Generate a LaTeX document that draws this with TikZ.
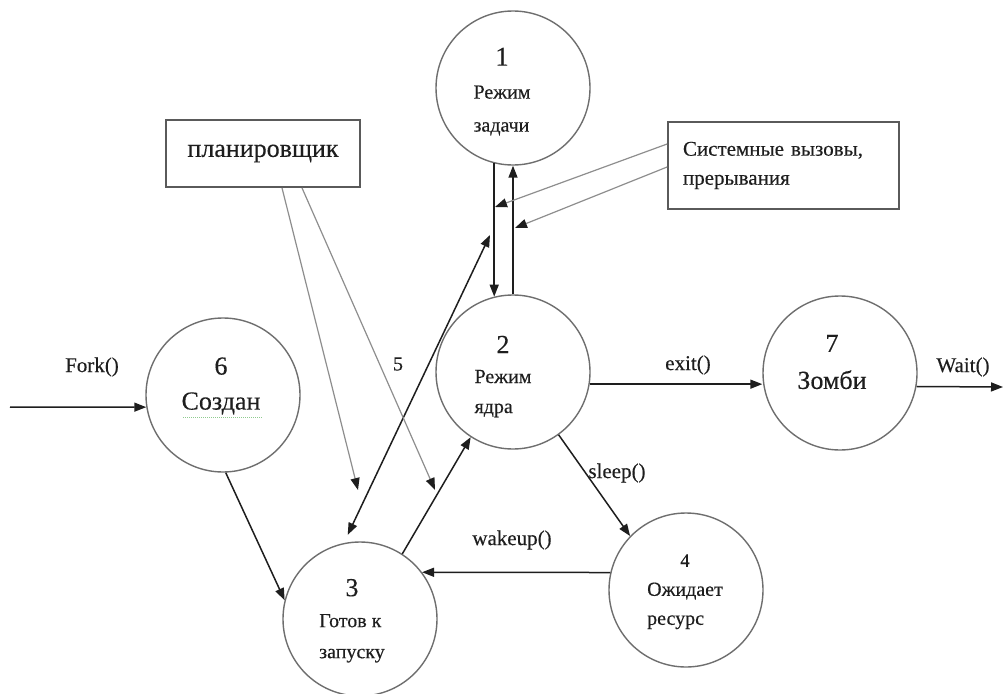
\documentclass[tikz,border=0pt]{standalone}
\usepackage{fontspec}
\setmainfont{Liberation Serif}[FakeBold=0.3]
\usetikzlibrary{arrows.meta}
\definecolor{ink}{HTML}{1E1E1E}
\definecolor{circgray}{HTML}{6E6E6E}
\definecolor{boxgray}{HTML}{5A5A5A}
\definecolor{hintgray}{HTML}{8E8E8E}
\definecolor{spellgreen}{HTML}{8FCB8F}
% number centred over left-aligned lines
\newcommand\stacktext[3]{\begin{tabular}{@{}l@{}}\multicolumn{1}{@{}c@{}}{#1}\\#2\\#3\end{tabular}}
\begin{document}
\begin{tikzpicture}[x=1pt,y=-1pt,
  state/.style={circle,draw=circgray,line width=1.4pt,minimum size=154pt,inner sep=0pt},
  stxt/.style={text=ink,inner sep=0pt},
  lbl/.style={text=ink,inner sep=0pt,font=\fontsize{21}{24}\selectfont},
  flow/.style={draw=ink,line width=1.5pt,-{Triangle[length=12pt,width=9pt]}},
  hint/.style={draw=hintgray,line width=1.2pt,-{Triangle[length=12pt,width=9pt,color=ink]}},
  box/.style={draw=boxgray,line width=1.8pt,inner sep=0pt,text=ink}]
\fill[white] (0,0) rectangle (1003,693);
\useasboundingbox (0,0) rectangle (1003,693);

% states
\node[state] (c1) at (513,88) {};
\node[state] (c2) at (513,372) {};
\node[state] (c3) at (360,619) {};
\node[state] (c4) at (686,590) {};
\node[state] (c6) at (223,395) {};
\node[state] (c7) at (840,373) {};

% state captions
\node[stxt,font=\fontsize{20}{33}\selectfont] (t1) at (502,92) {\stacktext{{\fontsize{27}{33}\selectfont 1}}{Режим}{задачи}};
\node[stxt,font=\fontsize{20}{30}\selectfont] (t2) at (503,377) {\stacktext{{\fontsize{26}{30}\selectfont 2}}{Режим}{ядра}};
\node[stxt,font=\fontsize{20}{31}\selectfont] (t3) at (352,621) {\stacktext{{\fontsize{26}{31}\selectfont 3}}{Готов к}{запуску}};
\node[stxt,font=\fontsize{20}{29}\selectfont] (t4) at (685,590) {\stacktext{{\fontsize{19}{29}\selectfont 4}}{Ожидает}{ресурс}};
\node[stxt,font=\fontsize{26}{35}\selectfont,align=center] (t6) at (221,386) {6\\Создан};
\node[stxt,font=\fontsize{26}{37}\selectfont,align=center] (t7) at (832,362) {7\\Зомби};
\draw[spellgreen,line width=1pt,densely dotted] (183,417) -- (262,417);

% boxes
\node[box,minimum width=194pt,minimum height=67pt,font=\fontsize{26}{30}\selectfont] (sched) at (263,153.5) {планировщик};
\node[box,minimum width=231pt,minimum height=87pt,text width=201pt,align=left,
      font=\fontsize{21}{29}\selectfont] (sys) at (783.5,165.5) {Системные вызовы,\\прерывания};

% free ends
\coordinate (forkin) at (10,407);
\coordinate (waitout) at (1003,387);
\coordinate (p5) at (490,235);
\coordinate (s1) at (358,490);
\coordinate (s2) at (435,490);
\coordinate (y1) at (495,207);
\coordinate (y2) at (515,228);

% transitions
\draw[flow] (forkin) -- (c6.189);
\draw[flow] (c2.-9) -- (c2.-9 -| c7.west);
\draw[flow] (c7.-10) -- (waitout);
\draw[flow] (c4.167) -- (c3.37);
\draw[flow] (c2.-54) -- (c4.136);
\draw[flow] (c1.-104) -- (c2.104);
\draw[flow] (c2.north) -- (c1.south);
\draw[flow,{Triangle[length=12pt,width=9pt]}-{Triangle[length=12pt,width=9pt]},shorten >=9pt] (p5) -- (c3.102);
\draw[flow] (c3.57) -- (c2.237);
\draw[flow] (c6.-88) -- (c3.166);

% scheduler and system-call hints
\draw[hint] ([xshift=19pt]sched.south) -- (s1);
\draw[hint] ([xshift=39pt]sched.south) -- (s2);
\draw[hint] ([yshift=21.5pt]sys.west) -- (y1);
\draw[hint] ([yshift=-1.5pt]sys.west) -- (y2);

% transition labels
\node[lbl] (lfork) at (92,367) {Fork()};
\node[lbl] (lexit) at (688,365) {exit()};
\node[lbl] (lwait) at (963,367) {Wait()};
\node[lbl] (lsleep) at (617,473) {sleep()};
\node[lbl] (lwake) at (512,540) {wakeup()};
\node[lbl,font=\fontsize{20}{24}\selectfont] (l5) at (398,364) {5};
\end{tikzpicture}
\end{document}
